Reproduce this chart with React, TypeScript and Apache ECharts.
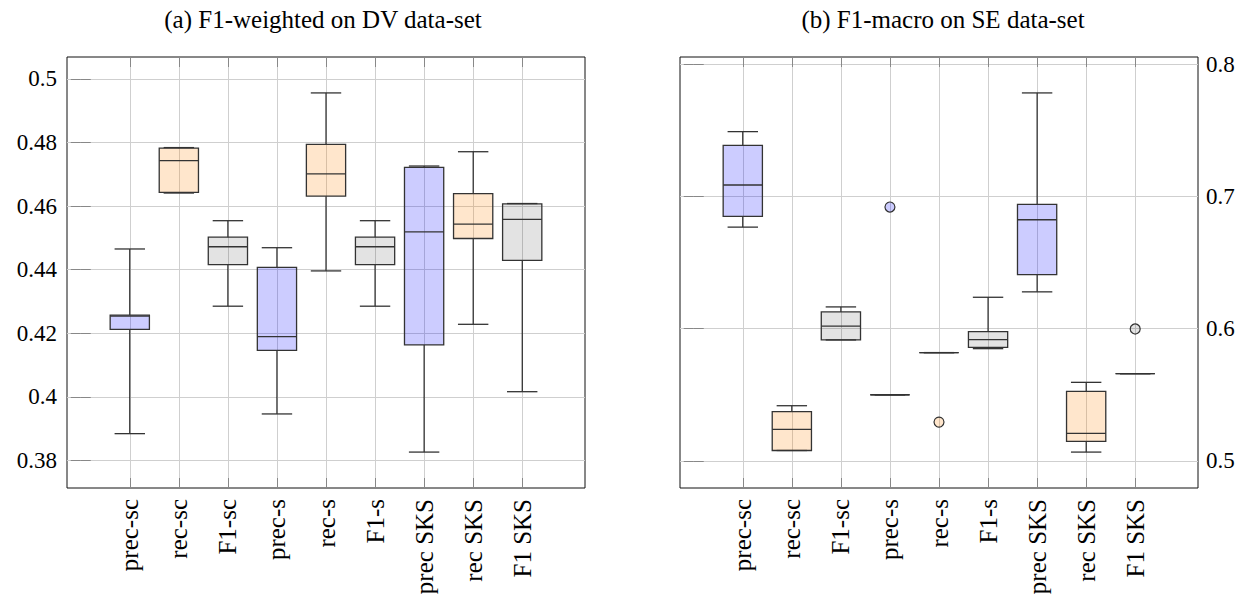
import React, { useEffect, useRef } from 'react';
import * as echarts from 'echarts';

const categories = ['prec-sc', 'rec-sc', 'F1-sc', 'prec-s', 'rec-s', 'F1-s', 'prec SKS', 'rec SKS', 'F1 SKS'];
const kinds = ['prec', 'rec', 'F1', 'prec', 'rec', 'F1', 'prec', 'rec', 'F1'];

// (a) F1-weighted on DV data-set
const dvMin = [0.3884, 0.4641, 0.4285, 0.3946, 0.4396, 0.4285, 0.3826, 0.4228, 0.4016];
const dvQ1 = [0.4212, 0.4643, 0.4416, 0.4146, 0.4631, 0.4416, 0.4163, 0.4498, 0.4429];
const dvMedian = [0.4254, 0.4743, 0.4472, 0.4189, 0.4701, 0.4472, 0.4519, 0.4543, 0.4558];
const dvQ3 = [0.4257, 0.4782, 0.4502, 0.4407, 0.4794, 0.4502, 0.4722, 0.4639, 0.4607];
const dvMax = [0.4465, 0.4784, 0.4554, 0.4469, 0.4956, 0.4554, 0.4726, 0.4771, 0.4608];

// (b) F1-macro on SE data-set
const seMin = [0.6769, 0.5078, 0.5915, 0.55, 0.5819, 0.5849, 0.6279, 0.5066, 0.566];
const seQ1 = [0.685, 0.5078, 0.5915, 0.55, 0.5819, 0.5859, 0.641, 0.5147, 0.566];
const seMedian = [0.7088, 0.5238, 0.6019, 0.55, 0.5819, 0.5917, 0.6825, 0.5207, 0.566];
const seQ3 = [0.7388, 0.5372, 0.6127, 0.55, 0.5819, 0.5978, 0.6941, 0.5526, 0.566];
const seMax = [0.7492, 0.5417, 0.6165, 0.55, 0.5819, 0.6238, 0.7785, 0.5594, 0.566];

const seOutlierCats = ['prec-s', 'rec-s', 'F1 SKS'];
const seOutlierValues = [0.6921, 0.5293, 0.5998];

const dvTicks = [0.38, 0.4, 0.42, 0.44, 0.46, 0.48, 0.5];
const seTicks = [0.5, 0.6, 0.7, 0.8];

const titles = ['(a) F1-weighted on DV data-set', '(b) F1-macro on SE data-set'];

const FILL: Record<string, string> = {
  prec: 'rgba(0,0,255,0.2)',
  rec: 'rgba(255,128,0,0.2)',
  F1: 'rgba(0,0,0,0.11)',
};

const FONT = '"Liberation Serif", "Times New Roman", serif';

const enlarge = (lo: number, hi: number) => {
  const d = (hi - lo) * 0.1;
  return [lo - d, hi + d];
};

const buildBoxData = (mn: number[], q1: number[], md: number[], q3: number[], mx: number[]) =>
  categories.map((_, i) => [i + 1, mn[i], q1[i], md[i], q3[i], mx[i]]);

const renderBox = (params: any, api: any) => {
  const x = api.value(0);
  const mn = api.value(1);
  const q1 = api.value(2);
  const md = api.value(3);
  const q3 = api.value(4);
  const mx = api.value(5);
  const bw = api.size([0.8, 0])[0];
  const cw = api.size([0.62, 0])[0];
  const cx = api.coord([x, md])[0];
  const yMin = api.coord([x, mn])[1];
  const yQ1 = api.coord([x, q1])[1];
  const yMed = api.coord([x, md])[1];
  const yQ3 = api.coord([x, q3])[1];
  const yMax = api.coord([x, mx])[1];
  const fill = FILL[kinds[params.dataIndex]];
  const whisker = { stroke: '#000', lineWidth: 1 };
  const cap = { stroke: '#333', lineWidth: 1.3 };
  const edge = { stroke: '#333', lineWidth: 1.3 };
  return {
    type: 'group',
    children: [
      { type: 'line', shape: { x1: cx, y1: yQ3, x2: cx, y2: yMax }, style: whisker },
      { type: 'line', shape: { x1: cx, y1: yMin, x2: cx, y2: yQ1 }, style: whisker },
      { type: 'line', shape: { x1: cx - cw / 2, y1: yMax, x2: cx + cw / 2, y2: yMax }, style: cap },
      { type: 'line', shape: { x1: cx - cw / 2, y1: yMin, x2: cx + cw / 2, y2: yMin }, style: cap },
      {
        type: 'rect',
        shape: { x: cx - bw / 2, y: yQ3, width: bw, height: yQ1 - yQ3 },
        style: { fill, ...edge },
      },
      { type: 'line', shape: { x1: cx - bw / 2, y1: yMed, x2: cx + bw / 2, y2: yMed }, style: edge },
    ],
  };
};

const fmtY = (v: number) => String(+v.toFixed(2));

export default function App() {
  const ref = useRef<HTMLDivElement>(null);

  useEffect(() => {
    if (!ref.current) return;
    const chart = echarts.init(ref.current, undefined, { renderer: 'svg' });

    const dvExt = enlarge(Math.min(...dvMin), Math.max(...dvMax));
    const seExt = enlarge(Math.min(...seMin), Math.max(...seMax));
    const xExt = enlarge(0.6, categories.length + 0.4);
    const catTicks = categories.map((_, i) => i + 1);

    const grids = [
      { left: 67, top: 57, width: 518, height: 431 },
      { left: 680, top: 57, width: 518, height: 431 },
    ];

    const xAxisBase = (gridIndex: number, position: string, labels: boolean) => ({
      type: 'value',
      gridIndex,
      position,
      min: xExt[0],
      max: xExt[1],
      axisLine: { show: false },
      axisTick: {
        show: true,
        inside: true,
        length: 10,
        customValues: catTicks,
        lineStyle: { color: '#888', width: 1 },
      },
      axisLabel: labels
        ? {
            show: true,
            customValues: catTicks,
            formatter: (v: number) => categories[Math.round(v) - 1] ?? '',
            rotate: 90,
            margin: 11,
            fontSize: 25,
            fontFamily: FONT,
            color: '#000',
          }
        : { show: false },
      splitLine: labels ? { show: true, lineStyle: { color: '#cfcfcf', width: 1 } } : { show: false },
    });

    const yAxisBase = (
      gridIndex: number,
      position: string,
      labels: boolean,
      ext: number[],
      ticks: number[],
    ) => ({
      type: 'value',
      gridIndex,
      position,
      min: ext[0],
      max: ext[1],
      axisLine: { show: false },
      axisTick: {
        show: true,
        inside: true,
        length: 10,
        customValues: ticks,
        lineStyle: { color: '#888', width: 1 },
      },
      axisLabel: labels
        ? {
            show: true,
            customValues: ticks,
            formatter: fmtY,
            margin: position === 'left' ? 10 : 8,
            fontSize: 23,
            fontFamily: FONT,
            color: '#000',
          }
        : { show: false },
      splitLine: labels ? { show: true, lineStyle: { color: '#cfcfcf', width: 1 } } : { show: false },
    });

    chart.setOption({
      animation: false,
      backgroundColor: '#fff',
      title: [
        {
          text: titles[0],
          left: 318,
          top: 2,
          textAlign: 'center',
          textStyle: { fontFamily: FONT, fontSize: 25, fontWeight: 'normal', color: '#000' },
        },
        {
          text: titles[1],
          left: 938,
          top: 2,
          textAlign: 'center',
          textStyle: { fontFamily: FONT, fontSize: 25, fontWeight: 'normal', color: '#000' },
        },
      ],
      grid: grids.map((g) => ({
        ...g,
        show: true,
        borderColor: '#111',
        borderWidth: 1,
        backgroundColor: 'transparent',
        containLabel: false,
      })),
      xAxis: [
        xAxisBase(0, 'bottom', true),
        xAxisBase(0, 'top', false),
        xAxisBase(1, 'bottom', true),
        xAxisBase(1, 'top', false),
      ],
      yAxis: [
        yAxisBase(0, 'left', true, dvExt, dvTicks),
        yAxisBase(0, 'right', false, dvExt, dvTicks),
        yAxisBase(1, 'right', true, seExt, seTicks),
        yAxisBase(1, 'left', false, seExt, seTicks),
      ],
      series: [
        {
          type: 'custom',
          name: 'DV',
          xAxisIndex: 0,
          yAxisIndex: 0,
          renderItem: renderBox,
          encode: { x: 0, y: [1, 2, 3, 4, 5] },
          data: buildBoxData(dvMin, dvQ1, dvMedian, dvQ3, dvMax),
          clip: false,
        },
        {
          type: 'custom',
          name: 'SE',
          xAxisIndex: 2,
          yAxisIndex: 2,
          renderItem: renderBox,
          encode: { x: 0, y: [1, 2, 3, 4, 5] },
          data: buildBoxData(seMin, seQ1, seMedian, seQ3, seMax),
          clip: false,
        },
        {
          type: 'scatter',
          name: 'SE outliers',
          xAxisIndex: 2,
          yAxisIndex: 2,
          symbol: 'circle',
          symbolSize: 10,
          z: 3,
          data: seOutlierCats.map((c, i) => {
            const idx = categories.indexOf(c);
            return {
              value: [idx + 1, seOutlierValues[i]],
              itemStyle: {
                color: FILL[kinds[idx]],
                borderColor: '#333',
                borderWidth: 1.2,
                opacity: 1,
              },
            };
          }),
        },
      ],
    });

    return () => {
      chart.dispose();
    };
  }, []);

  return (
    <div
      ref={ref}
      style={{ position: 'absolute', left: 0, top: 0, width: 1251, height: 600, background: '#fff' }}
    />
  );
}
